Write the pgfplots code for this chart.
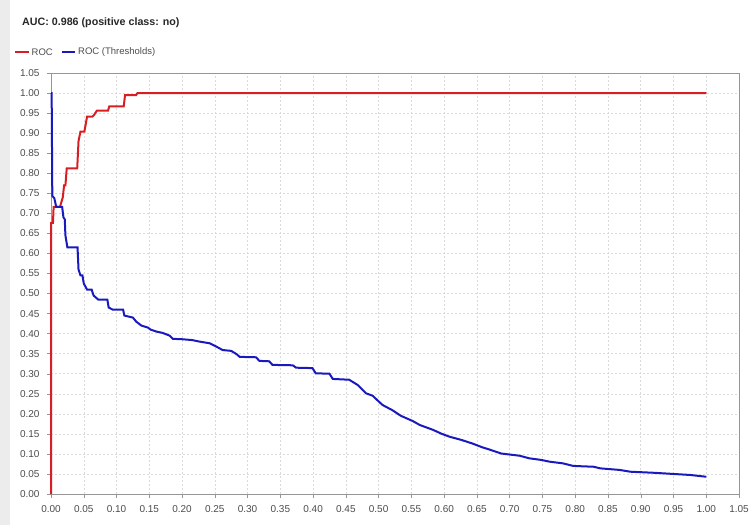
\documentclass[border=0pt]{standalone}
\usepackage{pgfplots}
\pgfplotsset{compat=1.18}
\usepackage{fontspec}
\setmainfont{Liberation Sans}
\definecolor{rocred}{RGB}{215,30,35}
\definecolor{rocblue}{RGB}{25,25,190}
\definecolor{ticktext}{RGB}{75,75,75}
\definecolor{axisgray}{RGB}{150,150,150}
\definecolor{gridgray}{RGB}{218,218,218}
\definecolor{stripgray}{RGB}{236,236,236}
\begin{document}
\begin{tikzpicture}[x=1pt,y=1pt]
\useasboundingbox (0,0) rectangle (751,525);
\fill[stripgray] (0,0) rectangle (10,525);
\node[anchor=west,font=\fontsize{10.7}{13}\selectfont\bfseries,text=black!85,inner sep=0] at (22,502) {AUC: 0.986 (positive class: no)};
% legend
\draw[rocred, line width=1.6pt] (15,472.7) -- (28.5,472.7);
\node[anchor=west,inner sep=0,font=\fontsize{9.5}{11}\selectfont,text=ticktext] at (31.5,472.7) {ROC};
\draw[rocblue, line width=1.6pt] (61.5,472.7) -- (75,472.7);
\node[anchor=west,inner sep=0,font=\fontsize{9.5}{11}\selectfont,text=ticktext] at (78,472.7) {ROC (Thresholds)};
\begin{axis}[
  at={(51pt,31pt)}, anchor=south west,
  width=688pt, height=421pt, scale only axis,
  xmin=0, xmax=1.05, ymin=0, ymax=1.05,
  xtick={0,0.05,...,1.06}, ytick={0,0.05,...,1.06},
  /pgf/number format/.cd, fixed, fixed zerofill, precision=2, assume math mode=true,
  /pgfplots/.cd,
  tick label style={font=\fontsize{10}{12}\selectfont, text=ticktext},
  xticklabel style={yshift=-4pt},
  yticklabel style={xshift=-4pt},
  tick align=outside, tick pos=left, major tick length=4pt,
  every tick/.style={axisgray},
  axis line style={axisgray, line width=0.8pt},
  axis lines*=left,
  grid=major, major grid style={gridgray, dash pattern=on 2pt off 2pt, line width=0.5pt},
  clip=false,
]
\addplot[color=rocred, line width=2pt] coordinates {
(0,0) (0,0.676) (0.003,0.676) (0.004,0.716) (0.0137,0.716) (0.018,0.74) (0.020,0.77) (0.022,0.77) (0.024,0.812) (0.040,0.812) (0.042,0.88) (0.045,0.904) (0.051,0.904) (0.055,0.941) (0.063,0.941) (0.066,0.946) (0.070,0.956) (0.087,0.956) (0.089,0.967) (0.111,0.967) (0.113,0.995) (0.130,0.995) (0.132,1.0) (1.0,1.0)
};
\addplot[color=rocblue, line width=2pt] coordinates {
(0,1.0) (0.001,1.0) (0.002,0.743) (0.005,0.738) (0.008,0.716) (0.017,0.716) (0.019,0.69) (0.021,0.685) (0.022,0.645) (0.025,0.615) (0.0405,0.615) (0.042,0.56) (0.045,0.545) (0.048,0.545) (0.050,0.525) (0.055,0.51) (0.062,0.51) (0.065,0.495) (0.072,0.485) (0.086,0.485) (0.088,0.465) (0.094,0.46) (0.110,0.46) (0.112,0.445) (0.125,0.44) (0.13,0.43) (0.138,0.42) (0.148,0.415) (0.152,0.41) (0.161,0.405) (0.17,0.402) (0.181,0.395) (0.186,0.387) (0.20,0.386) (0.215,0.384) (0.227,0.380) (0.242,0.376) (0.253,0.367) (0.262,0.359) (0.275,0.357) (0.283,0.349) (0.288,0.342) (0.313,0.341) (0.318,0.332) (0.333,0.331) (0.338,0.322) (0.369,0.321) (0.374,0.315) (0.399,0.314) (0.404,0.301) (0.425,0.300) (0.430,0.287) (0.455,0.285) (0.468,0.272) (0.481,0.251) (0.491,0.245) (0.498,0.234) (0.506,0.222) (0.521,0.209) (0.534,0.195) (0.552,0.182) (0.563,0.172) (0.583,0.160) (0.595,0.151) (0.608,0.143) (0.626,0.135) (0.643,0.126) (0.659,0.116) (0.669,0.111) (0.687,0.101) (0.715,0.0955) (0.730,0.089) (0.748,0.085) (0.761,0.0806) (0.781,0.0765) (0.797,0.070) (0.828,0.068) (0.838,0.064) (0.868,0.060) (0.884,0.0556) (0.919,0.053) (0.950,0.050) (0.976,0.0474) (1.0,0.043)
};
\draw[axisgray, line width=0.8pt] (rel axis cs:0,1) -- (rel axis cs:1,1) -- (rel axis cs:1,0);
\end{axis}
\end{tikzpicture}
\end{document}
